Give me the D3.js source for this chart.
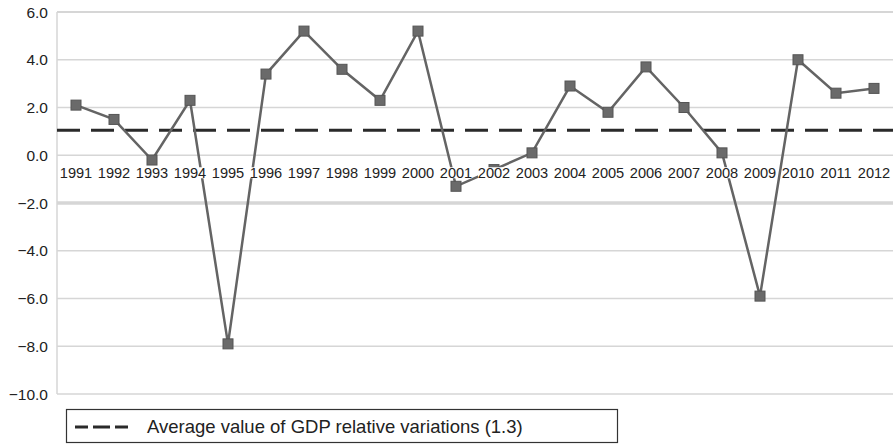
<html>
<head>
<meta charset="utf-8">
<script type="text/javascript" src="https://cdn.jsdelivr.net/npm/d3@7/dist/d3.min.js"></script>
<style>
body { margin: 0; background: #fff; }
text { font-family: "Liberation Sans", Arial, sans-serif; fill: #222; }
</style>
</head>
<body>
<div id="chart"></div>
<script type="text/javascript">
var years = ["1991","1992","1993","1994","1995","1996","1997","1998","1999","2000","2001",
	"2002","2003","2004","2005","2006","2007","2008","2009","2010","2011","2012"];
var gdpVariation = [2.1, 1.5, -0.2, 2.3, -7.9, 3.4, 5.2, 3.6, 2.3, 5.2, -1.3,
	-0.6, 0.1, 2.9, 1.8, 3.7, 2.0, 0.1, -5.9, 4.0, 2.6, 2.8];
var yTicks = [6, 4, 2, 0, -2, -4, -6, -8, -10];
var averageLine = 1.05;
var legendLabel = "Average value of GDP relative variations (1.3)";

// note: "top" is taken by window.top, so plot edges get their own names
var w = 894,
	h = 444,
	plotLeft = 57,
	plotRight = 893,
	plotTop = 12,
	plotBottom = 394;

var svg = d3.select("#chart")
	.append("svg")
	.attr("width", w)
	.attr("height", h);

var x = d3.scaleBand()
	.domain(years)
	.range([plotLeft, plotRight]);

var y = d3.scaleLinear()
	.domain([-10, 6])
	.range([plotBottom, plotTop]);

// horizontal grid
svg.selectAll("line.grid")
	.data(yTicks)
	.enter().append("line")
	.attr("class", "grid")
	.attr("x1", plotLeft)
	.attr("x2", plotRight)
	.attr("y1", function(d) {return y(d)})
	.attr("y2", function(d) {return y(d)})
	.style("stroke", "#d6d6d6")
	.style("stroke-width", function(d) {return d == -2 ? 3.5 : (d == 6 ? 2 : 1.5)});

svg.append("line")
	.attr("x1", plotLeft).attr("x2", plotLeft)
	.attr("y1", plotTop).attr("y2", plotBottom)
	.style("stroke", "#d6d6d6")
	.style("stroke-width", 1.5);

svg.selectAll("text.ytick")
	.data(yTicks)
	.enter().append("text")
	.attr("class", "ytick")
	.attr("x", 48)
	.attr("y", function(d) {return y(d)})
	.attr("dy", "0.36em")
	.attr("text-anchor", "end")
	.style("font-size", "15.5px")
	.text(function(d) {return d < 0 ? "\u2212" + Math.abs(d).toFixed(1) : d.toFixed(1)});

// average
svg.append("line")
	.attr("x1", plotLeft).attr("x2", plotRight)
	.attr("y1", y(averageLine)).attr("y2", y(averageLine))
	.style("stroke", "#2a2a2a")
	.style("stroke-width", 3)
	.style("stroke-dasharray", "23,11");

var points = years.map(function(d, i) {return {year: d, value: gdpVariation[i]}});

var line = d3.line()
	.x(function(d) {return x(d.year) + x.bandwidth() / 2})
	.y(function(d) {return y(d.value)});

svg.append("path")
	.datum(points)
	.attr("d", line)
	.style("fill", "none")
	.style("stroke", "#646464")
	.style("stroke-width", 2.5);

svg.selectAll("rect.marker")
	.data(points)
	.enter().append("rect")
	.attr("class", "marker")
	.attr("x", function(d) {return x(d.year) + x.bandwidth() / 2 - 5})
	.attr("y", function(d) {return y(d.value) - 5})
	.attr("width", 10)
	.attr("height", 10)
	.style("fill", "#6a6a6a")
	.style("stroke", "#555")
	.style("stroke-width", 1);

// category labels sit on top of the line, just under zero
var labelY = y(0) + 23;
var labels = svg.selectAll("g.xlab")
	.data(years)
	.enter().append("g")
	.attr("class", "xlab");

labels.append("rect")
	.attr("x", function(d) {return x(d) + x.bandwidth() / 2 - 16})
	.attr("y", labelY - 11)
	.attr("width", 32)
	.attr("height", 11)
	.style("fill", "#fff");

labels.append("text")
	.attr("x", function(d) {return x(d) + x.bandwidth() / 2})
	.attr("y", labelY)
	.attr("text-anchor", "middle")
	.style("font-size", "14.6px")
	.text(function(d) {return d});

// legend
var legend = svg.append("g");
legend.append("rect")
	.attr("x", 66.5).attr("y", 409.5)
	.attr("width", 551).attr("height", 33)
	.style("fill", "#fff")
	.style("stroke", "#333")
	.style("stroke-width", 1.2);
legend.append("line")
	.attr("x1", 75).attr("x2", 133)
	.attr("y1", 427).attr("y2", 427)
	.style("stroke", "#2a2a2a")
	.style("stroke-width", 3)
	.style("stroke-dasharray", "13,5,17,5,13");
legend.append("text")
	.attr("x", 147)
	.attr("y", 433)
	.style("font-size", "18.5px")
	.text(legendLabel);
</script>
</body>
</html>
